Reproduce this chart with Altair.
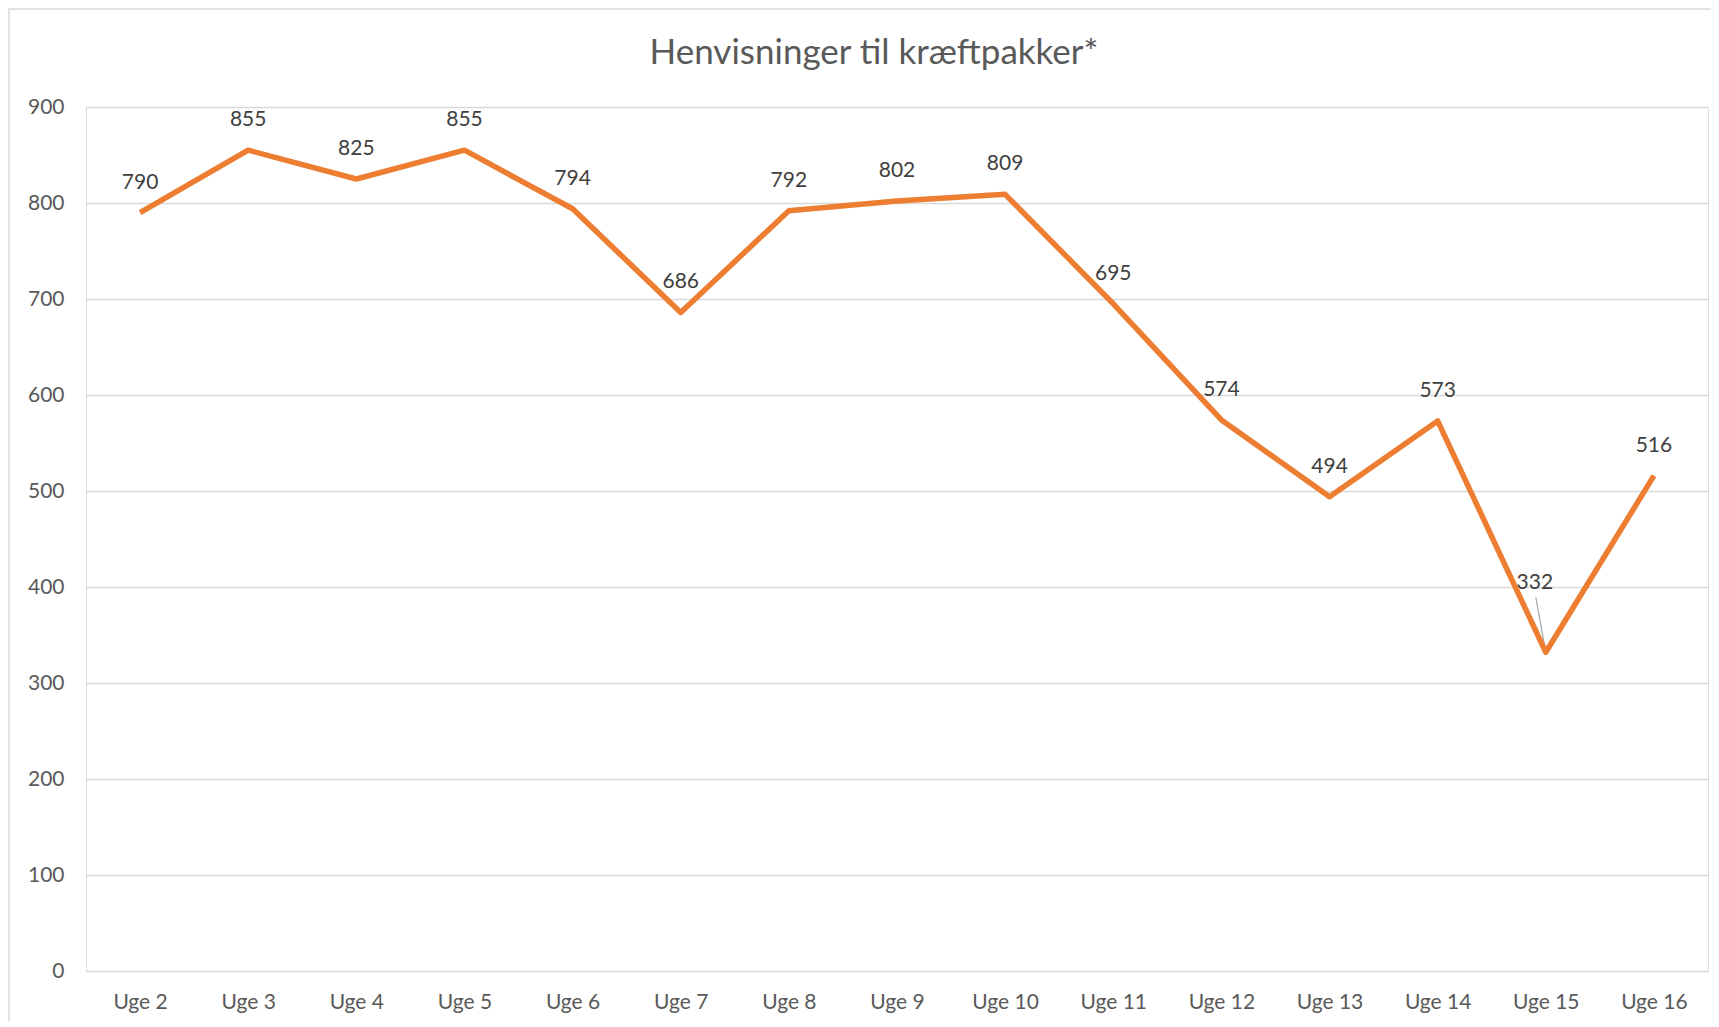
import altair as alt
import pandas as pd

weeks = ["Uge 2", "Uge 3", "Uge 4", "Uge 5", "Uge 6", "Uge 7", "Uge 8", "Uge 9",
         "Uge 10", "Uge 11", "Uge 12", "Uge 13", "Uge 14", "Uge 15", "Uge 16"]
values = [790, 855, 825, 855, 794, 686, 792, 802, 809, 695, 574, 494, 573, 332, 516]
y_ticks = [0, 100, 200, 300, 400, 500, 600, 700, 800, 900]
title_text = "Henvisninger til kræftpakker*"

df = pd.DataFrame({"week": weeks, "value": values})

FONT = "Lato"
x_scale = alt.Scale(type="point", padding=0.5)
x_axis = alt.Axis(labelAngle=0, labelAlign="center", labelBaseline="top",
                  ticks=False, domain=False, grid=False,
                  labelFont=FONT, labelFontSize=21, labelColor="#595959",
                  labelPadding=20)
x_enc = alt.X("week:N", sort=weeks, title=None, scale=x_scale, axis=x_axis)
y_enc = alt.Y("value:Q", title=None,
              scale=alt.Scale(domain=[0, 900], nice=False),
              axis=alt.Axis(values=y_ticks, ticks=False, domain=False, grid=True,
                            gridColor="#D9D9D9", gridWidth=1.5,
                            labelFont=FONT, labelFontSize=21, labelColor="#595959",
                            labelPadding=22))
xs = alt.X("week:N", sort=weeks, title=None, scale=x_scale, axis=x_axis)

base = alt.Chart(df)

border = base.mark_rect(fill=None, stroke="#D9D9D9", strokeWidth=1.5).encode(
    x=alt.value(-77), x2=alt.value(1700), y=alt.value(-98), y2=alt.value(1000)
).transform_filter("datum.week == 'Uge 2'")

title = base.mark_text(font=FONT, fontSize=35, color="#595959", baseline="middle",
                       align="center", text=title_text).encode(
    x=alt.value(788), y=alt.value(-54)
).transform_filter("datum.week == 'Uge 2'")

line = base.mark_line(color="#ED7D31", strokeWidth=5.5, strokeJoin="round").encode(
    x=x_enc, y=y_enc
)

labels = base.mark_text(font=FONT, fontSize=21, color="#404040", baseline="middle",
                        dy=-30).encode(
    x=xs, y="value:Q", text="value:Q"
).transform_filter("datum.week != 'Uge 15'")

label15 = base.mark_text(font=FONT, fontSize=21, color="#404040", baseline="middle",
                         dy=-69, dx=-11).encode(
    x=xs, y="value:Q", text="value:Q"
).transform_filter("datum.week == 'Uge 15'")

leader = base.mark_rule(color="#A6A6A6", strokeWidth=1.2, x2Offset=-10, y2Offset=-55).encode(
    x=xs, x2="week:N", y="value:Q", y2="value:Q"
).transform_filter("datum.week == 'Uge 15'")

chart = alt.layer(border, title, leader, line, labels, label15).properties(
    width=1622, height=864,
    autosize=alt.AutoSizeParams(type="none"),
    padding={"left": 78, "top": 99, "right": 3, "bottom": 50},
).configure_view(stroke=None).configure(background="white")

chart.save("out.html", embed_options={"renderer": "svg", "actions": False})
